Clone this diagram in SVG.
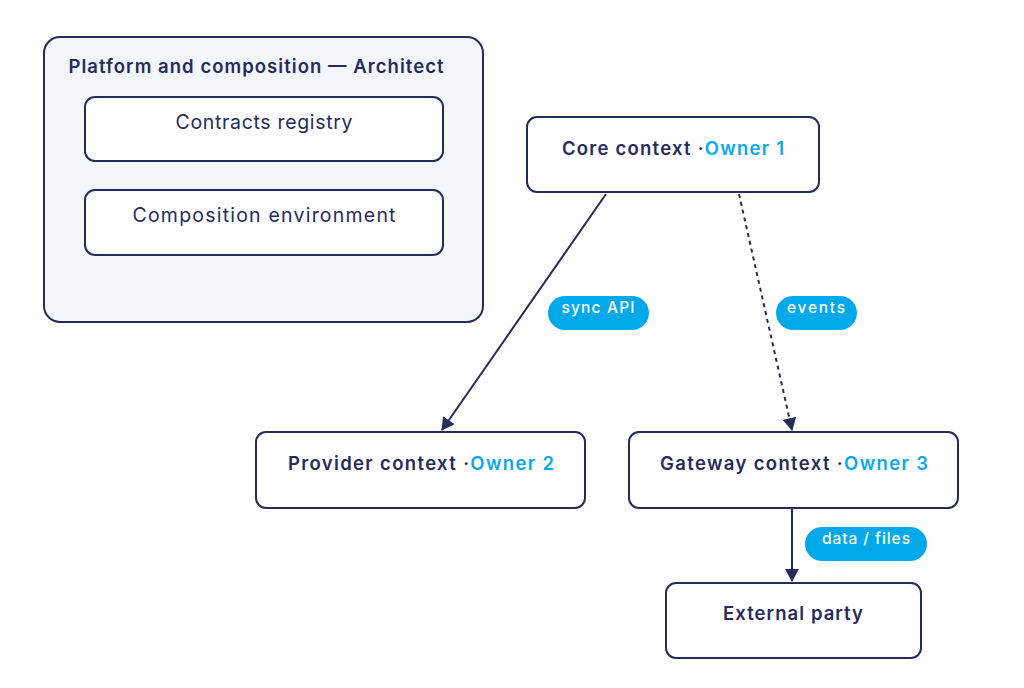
<svg xmlns="http://www.w3.org/2000/svg" width="1024" height="688" viewBox="0 0 1024 688">
<defs>
<style>
.box{fill:#ffffff;stroke:#262b5c;stroke-width:2}
.grp{fill:#f3f6fb;stroke:#262b5c;stroke-width:2}
.t{font-family:Inter,"Noto Sans",sans-serif;fill:#262b5c;text-anchor:middle}
.b{font-weight:600;font-size:18.5px}
.n{font-weight:400;font-size:19.5px}
.own{fill:#0aa8ec}
.edge{stroke:#262b5c;stroke-width:2;fill:none}
.pill{fill:#02a9ea}
.pt{font-family:Inter,"Noto Sans",sans-serif;fill:#ffffff;font-size:15.5px;font-weight:500;text-anchor:middle}
</style>
<marker id="arr" viewBox="0 0 13 14" refX="12" refY="7" markerWidth="13" markerHeight="14" markerUnits="userSpaceOnUse" orient="auto">
<path d="M0,0 L13,7 L0,14 Z" fill="#262b5c"/>
</marker>
</defs>
<rect width="1024" height="688" fill="#ffffff"/>
<g id="platform">
<rect class="grp" x="44" y="37" width="439" height="285" rx="16"/>
<text class="t b" x="256" y="73" textLength="375" lengthAdjust="spacing">Platform and composition — Architect</text>
</g>
<g id="contracts-registry">
<rect class="box" x="85" y="97" width="358" height="64" rx="10"/>
<text class="t n" x="264" y="129" textLength="177" lengthAdjust="spacing">Contracts registry</text>
</g>
<g id="composition-environment">
<rect class="box" x="85" y="190" width="358" height="65" rx="10"/>
<text class="t n" x="264" y="222" textLength="263" lengthAdjust="spacing">Composition environment</text>
</g>
<g id="core">
<rect class="box" x="527" y="117" width="292" height="75" rx="10"/>
<text class="t b" x="673" y="155" textLength="222" lengthAdjust="spacing">Core context ·<tspan class="own">Owner 1</tspan></text>
</g>
<g id="provider">
<rect class="box" x="256" y="432" width="329" height="76" rx="10"/>
<text class="t b" x="421" y="470" textLength="266" lengthAdjust="spacing">Provider context ·<tspan class="own">Owner 2</tspan></text>
</g>
<g id="gateway">
<rect class="box" x="629" y="432" width="329" height="76" rx="10"/>
<text class="t b" x="794" y="470" textLength="268" lengthAdjust="spacing">Gateway context ·<tspan class="own">Owner 3</tspan></text>
</g>
<g id="external">
<rect class="box" x="666" y="583" width="255" height="75" rx="10"/>
<text class="t b" x="793" y="620" textLength="140" lengthAdjust="spacing">External party</text>
</g>
<g id="connectors">
<line class="edge" x1="606" y1="194" x2="442" y2="430" marker-end="url(#arr)"/>
<line class="edge" x1="739" y1="194" x2="792" y2="430" stroke-dasharray="4 4" marker-end="url(#arr)"/>
<line class="edge" x1="792" y1="509" x2="792" y2="581" marker-end="url(#arr)"/>
<rect class="pill" x="548" y="296" width="101" height="34" rx="17"/>
<text class="pt" x="598" y="313" textLength="73" lengthAdjust="spacing">sync API</text>
<rect class="pill" x="776" y="296" width="81" height="34" rx="17"/>
<text class="pt" x="816" y="313" textLength="58" lengthAdjust="spacing">events</text>
<rect class="pill" x="805" y="527" width="122" height="34" rx="17"/>
<text class="pt" x="866" y="544" textLength="88" lengthAdjust="spacing">data / files</text>
</g>
</svg>
